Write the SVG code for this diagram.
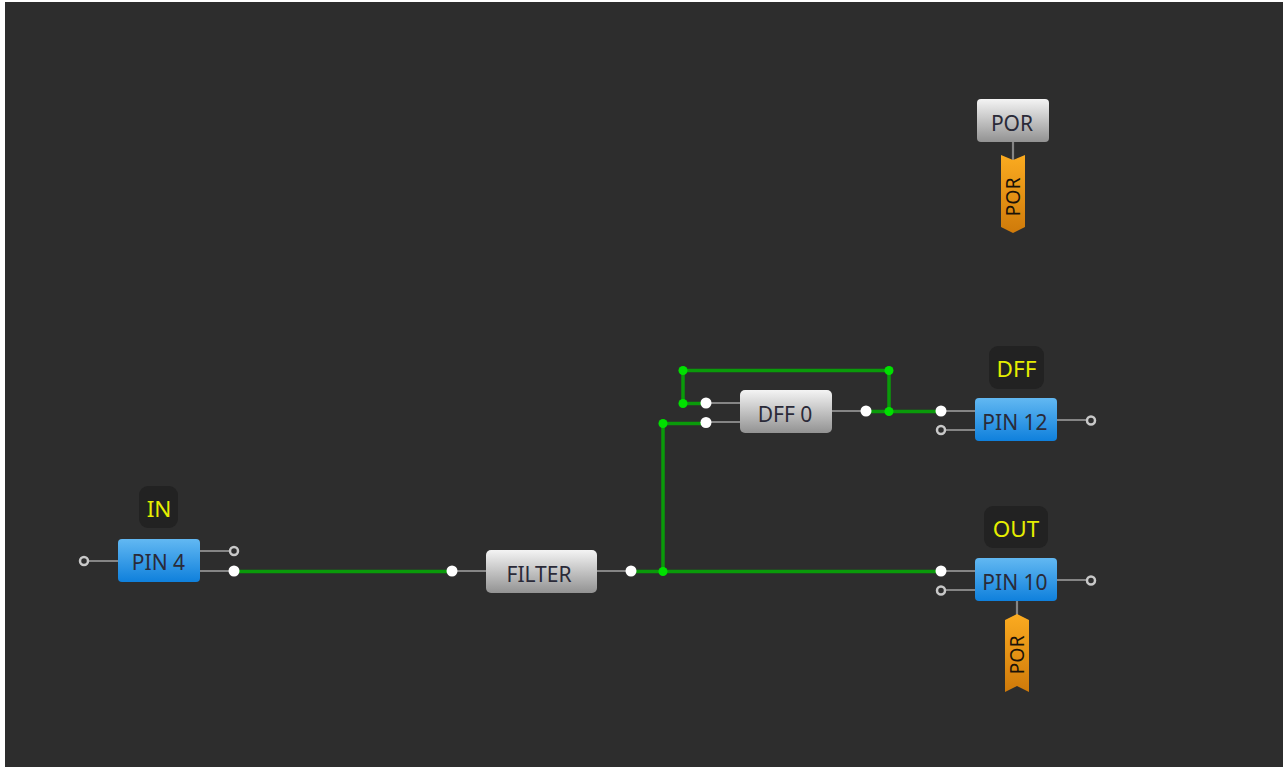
<svg xmlns="http://www.w3.org/2000/svg" width="1283" height="767" viewBox="0 0 1283 767">
<defs>
<linearGradient id="gGray" x1="0" y1="0" x2="0" y2="1"><stop offset="0" stop-color="#f4f4f4"/><stop offset="1" stop-color="#929292"/></linearGradient>
<linearGradient id="gBlue" x1="0" y1="0" x2="0" y2="1"><stop offset="0" stop-color="#62b8f2"/><stop offset="1" stop-color="#0f80dc"/></linearGradient>
<linearGradient id="gOrange" x1="0" y1="0" x2="0" y2="1"><stop offset="0" stop-color="#fbab20"/><stop offset="1" stop-color="#cf7a0a"/></linearGradient>
</defs>
<style>
text{font-family:"Noto Sans","Liberation Sans",sans-serif;text-anchor:middle}
.t{font-size:21px;fill:#2a2a38}
.l{font-size:22.500px;fill:#e6ee00}
.r{font-size:19.500px;fill:#1a1208}
.st{stroke:#858585;stroke-width:2.200;fill:none}
.w{stroke:#0a9a0a;stroke-width:3.500;fill:none}
.j{fill:#00e000}
.on{fill:#fff}
.off{fill:#2d2d2d;stroke:#c8c8c8;stroke-width:2.500}
.lb{fill:#222222}
</style>
<rect width="1283" height="767" fill="#ffffff"/>
<rect x="5" y="2" width="1278" height="765" fill="#2d2d2d"/>
<g id="connectors">
<path class="w" d="M234 571.500H452"/>
<path class="w" d="M631 571.500H941"/>
<path class="w" d="M663 571.500V423.500H706"/>
<path class="w" d="M706 403.500H683V370.500H889V411.500"/>
<path class="w" d="M866 411.500H941"/>
<circle class="j" cx="663" cy="571.500" r="4.500"/>
<circle class="j" cx="663" cy="423.500" r="4.500"/>
<circle class="j" cx="683" cy="403.500" r="4.500"/>
<circle class="j" cx="683" cy="370.500" r="4.500"/>
<circle class="j" cx="889" cy="370.500" r="4.500"/>
<circle class="j" cx="889" cy="411.500" r="4.500"/>
</g>
<g id="pin4">
<path class="st" d="M84 561H118M199 551H234M199 571H234"/>
<rect x="118" y="539" width="82" height="43" rx="4" fill="url(#gBlue)"/>
<text class="t" x="158.500" y="570">PIN 4</text>
<circle class="off" cx="84" cy="561" r="4"/>
<circle class="off" cx="234" cy="551" r="4"/>
<circle class="on" cx="234" cy="571" r="5.500"/>
</g>
<g id="label-in">
<rect class="lb" x="139" y="486" width="39" height="42" rx="9"/>
<text class="l" x="159" y="517">IN</text>
</g>
<g id="filter">
<path class="st" d="M452 571H487M597 571H631"/>
<rect x="486" y="550" width="111" height="43" rx="5" fill="url(#gGray)"/>
<text class="t" x="539" y="582">FILTER</text>
<circle class="on" cx="452" cy="571" r="5.500"/>
<circle class="on" cx="631" cy="571" r="5.500"/>
</g>
<g id="dff0">
<path class="st" d="M706 403H741M706 422H741M832 411H866"/>
<rect x="740" y="390" width="92" height="43" rx="5" fill="url(#gGray)"/>
<text class="t" x="785" y="422">DFF 0</text>
<circle class="on" cx="706" cy="403" r="5.500"/>
<circle class="on" cx="706" cy="422.500" r="5.500"/>
<circle class="on" cx="866" cy="411" r="5.500"/>
</g>
<g id="pin12">
<path class="st" d="M941 411H976M941 430H976M1056 420H1091"/>
<rect x="975" y="398" width="82" height="43" rx="4" fill="url(#gBlue)"/>
<text class="t" x="1015" y="430">PIN 12</text>
<circle class="on" cx="941" cy="411" r="5.500"/>
<circle class="off" cx="941" cy="430" r="4"/>
<circle class="off" cx="1091" cy="420.500" r="4"/>
</g>
<g id="label-dff">
<rect class="lb" x="989" y="346" width="55" height="43" rx="9"/>
<text class="l" x="1016.500" y="377">DFF</text>
</g>
<g id="pin10">
<path class="st" d="M941 571H976M941 590H976M1056 580H1091M1017 600V616"/>
<rect x="975" y="558" width="82" height="43" rx="4" fill="url(#gBlue)"/>
<text class="t" x="1015" y="590">PIN 10</text>
<circle class="on" cx="941" cy="571" r="5.500"/>
<circle class="off" cx="941" cy="590.500" r="4"/>
<circle class="off" cx="1091" cy="580.500" r="4"/>
</g>
<g id="label-out">
<rect class="lb" x="984" y="506" width="64" height="42" rx="9"/>
<text class="l" x="1016" y="537">OUT</text>
</g>
<g id="tag-por-out">
<path d="M1005 620L1017 614L1029 620V692L1017 686L1005 692Z" fill="url(#gOrange)"/>
<text class="r" transform="translate(1024 655) rotate(-90)">POR</text>
</g>
<g id="por">
<path class="st" d="M1013 142V160"/>
<rect x="977" y="99" width="72" height="43" rx="4" fill="url(#gGray)"/>
<text class="t" x="1012" y="131">POR</text>
</g>
<g id="tag-por">
<path d="M1001 155L1013 160L1025 155V227L1013 233L1001 227Z" fill="url(#gOrange)"/>
<text class="r" transform="translate(1020 197) rotate(-90)">POR</text>
</g>
</svg>
